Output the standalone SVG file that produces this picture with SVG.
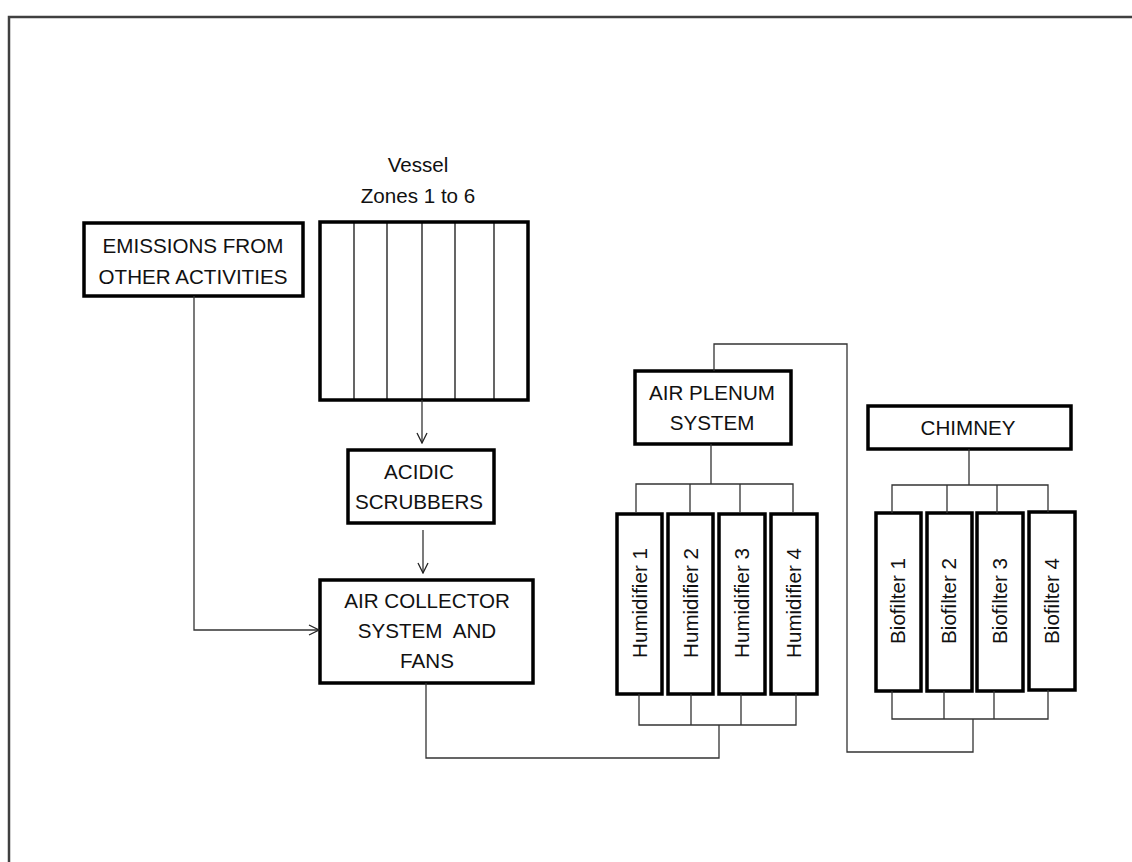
<svg xmlns="http://www.w3.org/2000/svg" width="1132" height="862" viewBox="0 0 1132 862">
<defs>
<style>
.box{fill:#fff;stroke:#000;stroke-width:3.5}
.thin{fill:none;stroke:#000;stroke-width:1.2}
.ln{fill:none;stroke:#333;stroke-width:1.3}
text{font-family:"Liberation Sans",Arial,sans-serif;font-size:20.6px;fill:#111;text-anchor:middle;white-space:pre}
</style>
<marker id="arr" viewBox="0 0 12 12" refX="11" refY="6" markerWidth="12" markerHeight="12" markerUnits="userSpaceOnUse" orient="auto">
<path d="M1,1 L11,6 L1,11" fill="none" stroke="#222" stroke-width="1.3"/>
</marker>
</defs>
<rect width="1132" height="862" fill="#fff"/>
<path d="M9,870 V17 H1140" fill="none" stroke="#404040" stroke-width="2.5"/>

<g id="emissions">
<rect class="box" x="84" y="223" width="219" height="73"/>
<text x="193" y="253">EMISSIONS FROM</text>
<text x="193" y="284">OTHER ACTIVITIES</text>
</g>

<g id="vessel">
<text x="418" y="172">Vessel</text>
<text x="418" y="203">Zones 1 to 6</text>
<rect class="box" x="320" y="222" width="208" height="178"/>
<path class="thin" d="M354,222V400M387,222V400M422,222V400M455,222V400M494,222V400"/>
</g>

<g id="scrubbers">
<rect class="box" x="348" y="450" width="146" height="73"/>
<text x="419" y="479">ACIDIC</text>
<text x="419" y="509">SCRUBBERS</text>
</g>

<g id="collector">
<rect class="box" x="320" y="580" width="213" height="103"/>
<text x="427" y="608">AIR COLLECTOR</text>
<text x="427" y="638" xml:space="preserve">SYSTEM  AND</text>
<text x="427" y="668">FANS</text>
</g>

<g id="plenum">
<rect class="box" x="635" y="371" width="156" height="73"/>
<text x="712" y="400">AIR PLENUM</text>
<text x="712" y="430">SYSTEM</text>
</g>

<g id="chimney">
<rect class="box" x="868" y="406" width="203" height="43"/>
<text x="968" y="435">CHIMNEY</text>
</g>

<g id="humidifier1">
<rect class="box" x="617" y="514" width="45" height="180"/>
<text transform="translate(647,603) rotate(-90)">Humidifier 1</text>
</g>
<g id="humidifier2">
<rect class="box" x="668" y="514" width="45" height="180"/>
<text transform="translate(698,603) rotate(-90)">Humidifier 2</text>
</g>
<g id="humidifier3">
<rect class="box" x="719" y="514" width="46" height="180"/>
<text transform="translate(749,603) rotate(-90)">Humidifier 3</text>
</g>
<g id="humidifier4">
<rect class="box" x="771" y="514" width="46" height="180"/>
<text transform="translate(801,603) rotate(-90)">Humidifier 4</text>
</g>

<g id="biofilter1">
<rect class="box" x="876" y="513" width="45" height="178"/>
<text transform="translate(905,601) rotate(-90)">Biofilter 1</text>
</g>
<g id="biofilter2">
<rect class="box" x="927" y="513" width="45" height="178"/>
<text transform="translate(956,601) rotate(-90)">Biofilter 2</text>
</g>
<g id="biofilter3">
<rect class="box" x="977" y="513" width="46" height="178"/>
<text transform="translate(1007,601) rotate(-90)">Biofilter 3</text>
</g>
<g id="biofilter4">
<rect class="box" x="1029" y="512" width="46" height="178"/>
<text transform="translate(1059,601) rotate(-90)">Biofilter 4</text>
</g>

<g id="connectors">
<path class="ln" d="M422,400V443" marker-end="url(#arr)"/>
<path class="ln" d="M423,530V573" marker-end="url(#arr)"/>
<path class="ln" d="M194,296V630H319" marker-end="url(#arr)"/>
<path class="ln" d="M426,683V758H719V725"/>
<path class="ln" d="M639,694V725H796V694M691,694V725M741,694V725"/>
<path class="ln" d="M711,444V484M636,512V484H793V512M690,484V512M740,484V512"/>
<path class="ln" d="M714,371V344H847V752H973V719"/>
<path class="ln" d="M892,691V719H1048V690M944,691V719M994,691V719"/>
<path class="ln" d="M969,449V485M892,513V485H1048V512M947,485V513M997,485V513"/>
</g>
</svg>
